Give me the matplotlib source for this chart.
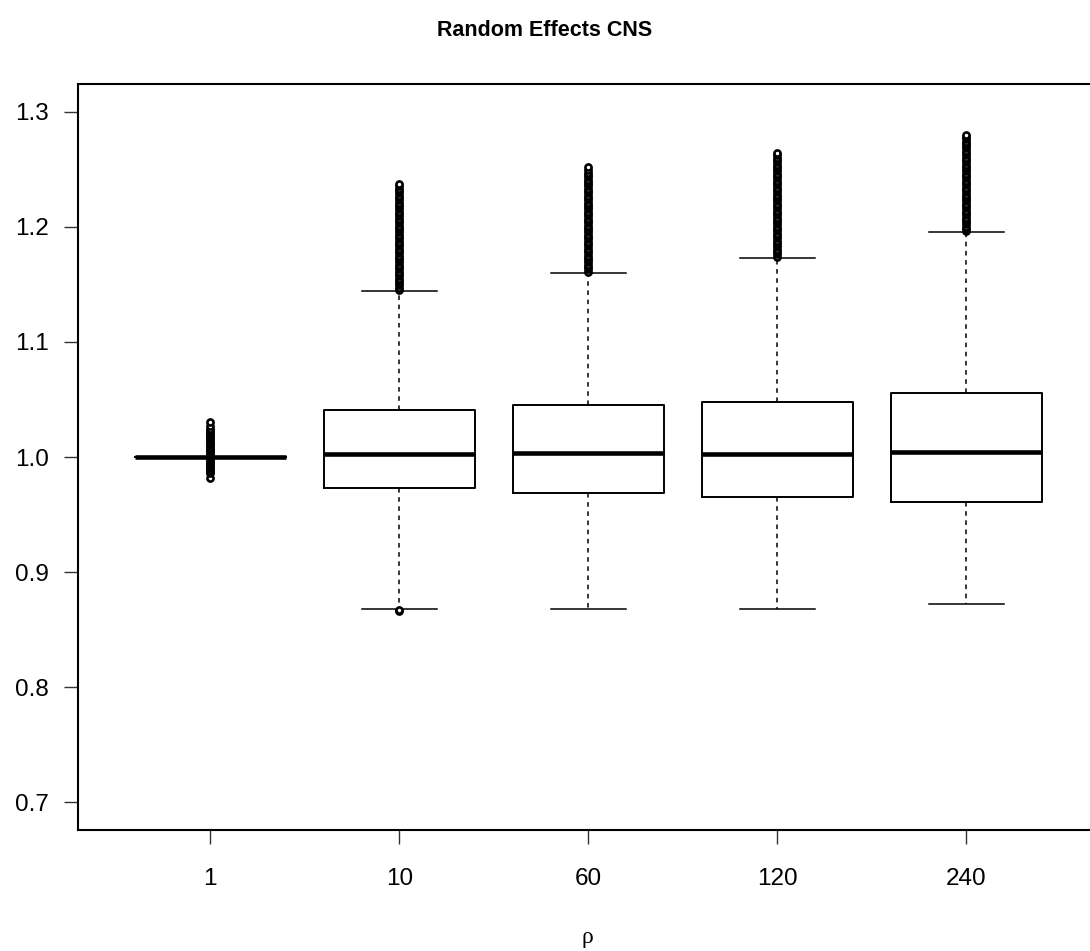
import matplotlib
matplotlib.use("Agg")
import matplotlib.pyplot as plt

# Groups along the x axis
rho_labels = ["1", "10", "60", "120", "240"]

# Five-number summaries for each group
medians = [1.000, 1.0026, 1.0035, 1.0028, 1.0046]
q1s = [1.000, 0.973, 0.969, 0.965, 0.9605]
q3s = [1.000, 1.041, 1.045, 1.048, 1.0552]
whisk_lo = [1.000, 0.868, 0.868, 0.868, 0.872]
whisk_hi = [1.000, 1.144, 1.160, 1.173, 1.195]

# Outlying observations per group
fliers_1 = [0.9818, 0.9857, 0.9870, 0.9885, 0.9900, 0.9915, 0.9930, 0.9945,
            0.9960, 0.9975, 0.9990, 1.0005, 1.0020, 1.0035, 1.0050, 1.0065,
            1.0080, 1.0095, 1.0110, 1.0125, 1.0140, 1.0155, 1.0170, 1.0185,
            1.0200, 1.0215, 1.0230, 1.0247, 1.0270, 1.0303]
fliers_10 = [0.866, 0.867, 1.145, 1.147, 1.149, 1.151, 1.153, 1.155, 1.157,
             1.159, 1.161, 1.163, 1.165, 1.167, 1.169, 1.171, 1.173, 1.175,
             1.177, 1.179, 1.181, 1.183, 1.185, 1.187, 1.189, 1.191, 1.193,
             1.195, 1.197, 1.199, 1.201, 1.203, 1.205, 1.207, 1.209, 1.211,
             1.213, 1.215, 1.217, 1.219, 1.221, 1.223, 1.225, 1.227, 1.229,
             1.231, 1.233, 1.235, 1.237]
fliers_60 = [1.161, 1.163, 1.165, 1.167, 1.169, 1.171, 1.173, 1.175, 1.177,
             1.179, 1.181, 1.183, 1.185, 1.187, 1.189, 1.191, 1.193, 1.195,
             1.197, 1.199, 1.201, 1.203, 1.205, 1.207, 1.209, 1.211, 1.213,
             1.215, 1.217, 1.219, 1.221, 1.223, 1.225, 1.227, 1.229, 1.231,
             1.233, 1.235, 1.237, 1.239, 1.241, 1.243, 1.245, 1.247, 1.249,
             1.252]
fliers_120 = [1.174, 1.176, 1.178, 1.180, 1.182, 1.184, 1.186, 1.188, 1.190,
              1.192, 1.194, 1.196, 1.198, 1.200, 1.202, 1.204, 1.206, 1.208,
              1.210, 1.212, 1.214, 1.216, 1.218, 1.220, 1.222, 1.224, 1.226,
              1.228, 1.230, 1.232, 1.234, 1.236, 1.238, 1.240, 1.242, 1.244,
              1.246, 1.248, 1.250, 1.252, 1.254, 1.256, 1.258, 1.260, 1.262,
              1.264]
fliers_240 = [1.196, 1.198, 1.200, 1.202, 1.204, 1.206, 1.208, 1.210, 1.212,
              1.214, 1.216, 1.218, 1.220, 1.222, 1.224, 1.226, 1.228, 1.230,
              1.232, 1.234, 1.236, 1.238, 1.240, 1.242, 1.244, 1.246, 1.248,
              1.250, 1.252, 1.254, 1.256, 1.258, 1.260, 1.262, 1.264, 1.266,
              1.268, 1.270, 1.272, 1.274, 1.276, 1.278, 1.280]
fliers = [fliers_1, fliers_10, fliers_60, fliers_120, fliers_240]

y_ticks = [0.7, 0.8, 0.9, 1.0, 1.1, 1.2, 1.3]

plt.rcParams["font.family"] = ["Liberation Sans", "DejaVu Sans"]

fig = plt.figure(figsize=(10.90, 9.51), dpi=100)
ax = fig.add_axes([0.0716, 0.1272, 0.9363, 0.7845])

stats = []
for lab, med, lo, hi, wl, wh, fl in zip(rho_labels, medians, q1s, q3s,
                                        whisk_lo, whisk_hi, fliers):
    stats.append(dict(label=lab, med=med, q1=lo, q3=hi,
                      whislo=wl, whishi=wh, fliers=fl))

positions = list(range(1, len(rho_labels) + 1))
ax.bxp(stats, positions=positions, widths=0.8, showfliers=True,
       boxprops=dict(color="black", linewidth=1.4),
       medianprops=dict(color="black", linewidth=3.3, solid_capstyle="butt"),
       whiskerprops=dict(color="black", linewidth=1.1, linestyle=(0, (3, 3))),
       capprops=dict(color="black", linewidth=1.1),
       capwidths=0.4,
       flierprops=dict(marker="o", markerfacecolor="white",
                       markeredgecolor="black", markersize=4.4,
                       markeredgewidth=1.9, linestyle="none"))

ax.set_xlim(0.3, 5.7)
ax.set_ylim(0.676, 1.324)
ax.set_xticks(positions)
ax.set_xticklabels(rho_labels)
ax.set_yticks(y_ticks)
ax.set_yticklabels([f"{v:.1f}" for v in y_ticks])

ax.tick_params(axis="both", direction="out", length=10, width=1.0,
               labelsize=17.5, color="#333333")
ax.tick_params(axis="x", pad=17)
ax.tick_params(axis="y", pad=11)

for sp in ax.spines.values():
    sp.set_linewidth(1.5)

fig.text(0.5, 1 - 31 / 951, "Random Effects CNS", ha="center", va="center",
         fontsize=15.5, fontweight="bold")
fig.text(587 / 1090, 1 - 938 / 951, "ρ", ha="center", va="center",
         fontsize=17, family=["Liberation Serif", "DejaVu Serif"])

fig.savefig("out.png", dpi=100)
